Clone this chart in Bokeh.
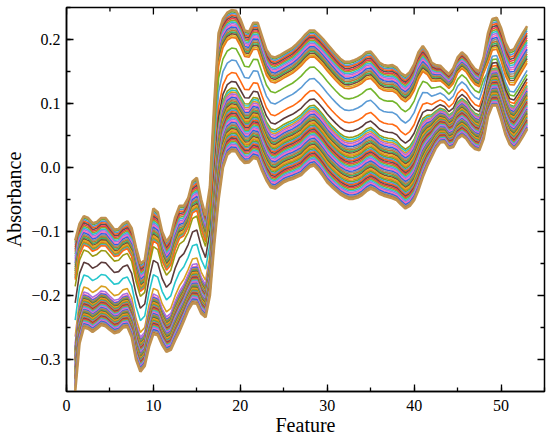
import math
from bokeh.plotting import figure
from bokeh.models import Range1d, SingleIntervalTicker, CustomJSTickFormatter
from bokeh.embed import file_html
from bokeh.resources import INLINE

# ---------------- data ----------------
# feature positions (read every half feature, 1 ... 53)
features = [1 + 0.5 * k for k in range(105)]

# upper edge of the bundle of spectra
top_edge = [-0.114, -0.088, -0.076, -0.079, -0.087, -0.085, -0.079, -0.079, -0.088, -0.097,
            -0.096, -0.088, -0.084, -0.095, -0.125, -0.150, -0.145, -0.100, -0.064, -0.070,
            -0.100, -0.116, -0.106, -0.078, -0.060, -0.060, -0.048, -0.022, -0.016, -0.050,
            -0.075, -0.030, 0.100, 0.210, 0.232, 0.242, 0.246, 0.245, 0.232, 0.214,
            0.212, 0.226, 0.226, 0.205, 0.184, 0.174, 0.172, 0.175, 0.179, 0.183,
            0.187, 0.193, 0.200, 0.208, 0.214, 0.214, 0.208, 0.201, 0.193, 0.185,
            0.177, 0.170, 0.165, 0.165, 0.167, 0.170, 0.174, 0.180, 0.181, 0.173,
            0.164, 0.160, 0.159, 0.160, 0.156, 0.147, 0.143, 0.149, 0.161, 0.180,
            0.190, 0.180, 0.164, 0.160, 0.159, 0.152, 0.146, 0.155, 0.172, 0.180,
            0.174, 0.163, 0.154, 0.150, 0.172, 0.210, 0.232, 0.234, 0.218, 0.195,
            0.182, 0.185, 0.198, 0.210, 0.221]

# lower edge of the bundle of spectra
bottom_edge = [-0.350, -0.275, -0.250, -0.252, -0.257, -0.252, -0.246, -0.248, -0.254, -0.259,
               -0.257, -0.250, -0.249, -0.265, -0.300, -0.319, -0.310, -0.280, -0.260, -0.262,
               -0.277, -0.288, -0.285, -0.270, -0.256, -0.240, -0.223, -0.212, -0.213, -0.228,
               -0.234, -0.200, -0.120, -0.050, 0.000, 0.020, 0.026, 0.025, 0.014, 0.007,
               0.008, 0.015, 0.013, -0.005, -0.020, -0.031, -0.033, -0.028, -0.023, -0.020,
               -0.018, -0.015, -0.012, -0.005, 0.001, 0.003, -0.004, -0.013, -0.023, -0.030,
               -0.036, -0.042, -0.046, -0.049, -0.049, -0.047, -0.043, -0.037, -0.033, -0.036,
               -0.041, -0.044, -0.046, -0.048, -0.051, -0.058, -0.064, -0.060, -0.051, -0.035,
               -0.015, 0.002, 0.016, 0.030, 0.039, 0.040, 0.030, 0.032, 0.045, 0.050,
               0.045, 0.035, 0.029, 0.027, 0.045, 0.080, 0.097, 0.097, 0.076, 0.052,
               0.036, 0.029, 0.037, 0.048, 0.060]

# relative level of each spectrum inside the bundle (1 = upper edge, 0 = lower edge)
level_left = [1.000, 0.985, 0.970, 0.955, 0.940, 0.925, 0.910, 0.895, 0.880, 0.866,
              0.852, 0.838, 0.824, 0.810, 0.796, 0.783, 0.770,
              0.760, 0.750, 0.741, 0.586,
              0.696, 0.472, 0.363, 0.318,
              0.298, 0.290, 0.282, 0.274, 0.266, 0.258, 0.250, 0.242, 0.234, 0.226,
              0.218, 0.210, 0.202, 0.194, 0.186, 0.178, 0.170, 0.162, 0.154, 0.146,
              0.138, 0.130, 0.122, 0.114, 0.106, 0.098, 0.090, 0.082, 0.074, 0.066,
              0.058, 0.050, 0.042, 0.034, 0.024, 0.012, 0.000]

level_mid = [1.000, 0.988, 0.976, 0.964, 0.952, 0.940, 0.928, 0.916, 0.904, 0.892,
             0.880, 0.868, 0.856, 0.844, 0.832, 0.818, 0.805,
             0.730, 0.645, 0.556, 0.493,
             0.447, 0.432, 0.418, 0.405,
             0.392, 0.380, 0.368, 0.356, 0.345, 0.334, 0.323, 0.312, 0.301, 0.290,
             0.279, 0.268, 0.257, 0.246, 0.235, 0.224, 0.213, 0.202, 0.191, 0.180,
             0.169, 0.158, 0.147, 0.136, 0.125, 0.114, 0.103, 0.092, 0.081, 0.070,
             0.059, 0.048, 0.038, 0.028, 0.018, 0.009, 0.000]

level_right = [1.000, 0.978, 0.955, 0.933, 0.910, 0.888, 0.865, 0.843, 0.820, 0.798,
               0.775, 0.753, 0.730, 0.708, 0.685, 0.663, 0.640,
               0.530, 0.570, 0.455, 0.490,
               0.425, 0.414, 0.403, 0.392,
               0.381, 0.370, 0.359, 0.348, 0.337, 0.326, 0.315, 0.304, 0.293, 0.282,
               0.271, 0.260, 0.249, 0.238, 0.227, 0.216, 0.205, 0.194, 0.183, 0.172,
               0.161, 0.150, 0.139, 0.128, 0.117, 0.106, 0.095, 0.084, 0.073, 0.062,
               0.052, 0.042, 0.032, 0.022, 0.013, 0.006, 0.000]

left_last_feature = 16.5
mid_last_feature = 48.0

x_start, x_end = 0, 55
y_start, y_end = -0.35, 0.25
x_major_ticks = [0, 10, 20, 30, 40, 50]
x_minor_ticks = [5, 15, 25, 35, 45]
y_major_ticks = [-0.3, -0.2, -0.1, 0.0, 0.1, 0.2]
y_minor_ticks = [-0.25, -0.15, -0.05, 0.05, 0.15]

# ---------------- styling ----------------
palette = ["#e8781e", "#5fae2e", "#4e95d9", "#ff5b1a", "#555555", "#ee3a4a",
           "#a0a020", "#2cc5cc", "#a66ee6", "#ff6fb5", "#2a5fe8", "#909090",
           "#c0762a", "#3db36b", "#7c4a3a", "#e0b020"]
special_colors = {17: "#73b52b", 18: "#5b9bd5", 19: "#ff6a13", 20: "#5b3b3b",
                  21: "#9a9a14", 22: "#25c6cc", 23: "#d8a020", 24: "#a86de0"}
edge_color = "#bf9150"
FONT = "Liberation Serif"

n_lines = len(level_left)
xs, ys, colors = [], [], []
for i in range(n_lines):
    yy = []
    for j, f in enumerate(features):
        if f <= left_last_feature:
            w = level_left[i]
        elif f <= mid_last_feature:
            w = level_mid[i]
        else:
            w = level_right[i]
        yy.append(bottom_edge[j] + w * (top_edge[j] - bottom_edge[j]))
    xs.append(features)
    ys.append(yy)
    colors.append(special_colors.get(i, palette[i % len(palette)]))

p = figure(frame_width=478, frame_height=384,
           x_range=Range1d(x_start, x_end), y_range=Range1d(y_start, y_end),
           output_backend="svg", toolbar_location=None,
           min_border_top=7, min_border_right=4, min_border_left=66, min_border_bottom=0)
p.xgrid.grid_line_color = None
p.ygrid.grid_line_color = None
p.outline_line_color = "black"
p.outline_line_width = 1.5
p.background_fill_color = "white"

inner = list(range(1, n_lines - 1))
p.multi_line([xs[i] for i in inner], [ys[i] for i in inner],
             line_color=[colors[i] for i in inner], line_width=1.6)
for i in (0, n_lines - 1):
    p.line(xs[i], ys[i], line_color=edge_color, line_width=2.6)

# mirrored inward ticks on the top and right frame edges
p.scatter(x=x_major_ticks, y=[y_end] * len(x_major_ticks), marker="dash", size=14,
          angle=math.pi / 2, line_color="black", line_width=1.3)
p.scatter(x=x_minor_ticks, y=[y_end] * len(x_minor_ticks), marker="dash", size=8,
          angle=math.pi / 2, line_color="black", line_width=1.3)
p.scatter(x=[x_end] * len(y_major_ticks), y=y_major_ticks, marker="dash", size=14,
          line_color="black", line_width=1.3)
p.scatter(x=[x_end] * len(y_minor_ticks), y=y_minor_ticks, marker="dash", size=8,
          line_color="black", line_width=1.3)

yfmt = CustomJSTickFormatter(code="""
if (Math.abs(tick) < 1e-9) { return "0.0"; }
var s = tick.toFixed(1);
return s.replace("-", "\u2212");
""")

def style_axis(ax):
    ax.axis_line_color = "black"
    ax.axis_line_width = 1.5
    ax.major_tick_line_color = "black"
    ax.minor_tick_line_color = "black"
    ax.major_tick_line_width = 1.3
    ax.minor_tick_line_width = 1.3
    ax.major_tick_in = 7
    ax.major_tick_out = 0
    ax.minor_tick_in = 4
    ax.minor_tick_out = 0
    ax.major_label_text_font = FONT
    ax.major_label_text_font_size = "16px"
    ax.major_label_text_color = "black"
    ax.axis_label_text_font = FONT
    ax.axis_label_text_font_size = "20px"
    ax.axis_label_text_font_style = "normal"
    ax.axis_label_text_color = "black"

xa = p.xaxis[0]
xa.ticker = SingleIntervalTicker(interval=10, num_minor_ticks=2)
xa.axis_label = "Feature"
style_axis(xa)
xa.major_label_standoff = 8
xa.axis_label_standoff = 0

ya = p.yaxis[0]
ya.ticker = SingleIntervalTicker(interval=0.1, num_minor_ticks=2)
ya.formatter = yfmt
ya.axis_label = "Absorbance"
style_axis(ya)
ya.major_label_standoff = 6
ya.axis_label_standoff = 3

open("out.html", "w").write(file_html(p, INLINE))
